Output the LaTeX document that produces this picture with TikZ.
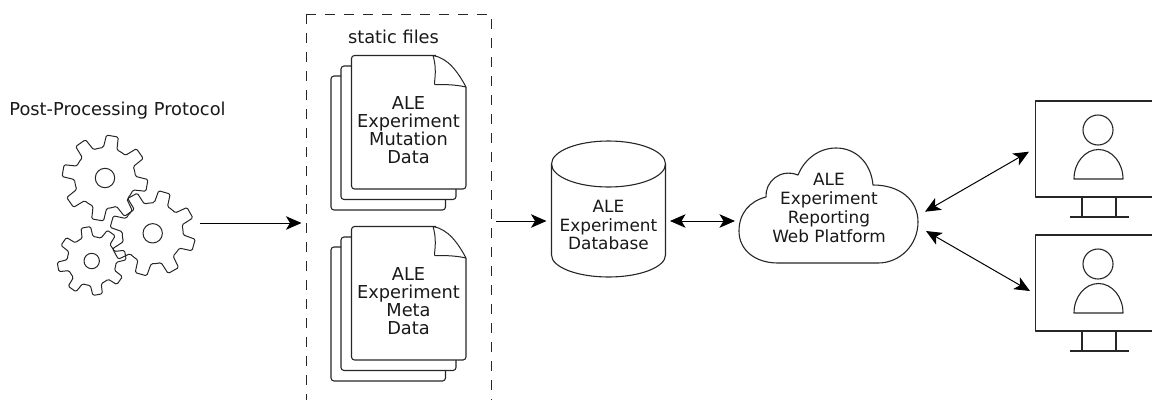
\documentclass[tikz,border=0pt]{standalone}
\usepackage{fontspec}
\setmainfont{DejaVu Sans}
\usetikzlibrary{arrows.meta}
\tikzset{
  x=1pt,y=-1pt,
  line/.style={draw=black!85,line width=1.1pt,line join=round},
  thin line/.style={draw=black!85,line width=1pt,line join=round},
  dashedbox/.style={draw=black!85,line width=1pt,dash pattern=on 9.5pt off 9.5pt},
  arrowline/.style={draw=black,line width=1pt,-{Stealth[length=15.5pt,width=13.5pt,inset=4pt]}},
  biarrow/.style={draw=black,line width=1pt,{Stealth[length=15.5pt,width=13.5pt,inset=4pt]}-{Stealth[length=15.5pt,width=13.5pt,inset=4pt]}},
  label/.style={font=\fontsize{17.8}{18}\selectfont,align=center,inner sep=0pt,text=black!90},
  small label/.style={label,font=\fontsize{16.9}{18.3}\selectfont},
}
\newcommand{\mygear}[5]{% cx cy rout rin phase
  \draw[thin line,rounded corners=1.4pt,shift={(#1,#2)}]
    (-#5-13:#4)
    \foreach \k in {0,45,...,315}{
      -- (-#5+\k-13:#4) -- (-#5+\k-8:#3) -- (-#5+\k+8:#3) -- (-#5+\k+13:#4) -- (-#5+\k+22.5:#4)
    } -- cycle;
}
\newcommand{\mydoc}[3]{% dy, text, name
  \begin{scope}[shift={(0,#1)}]
    \draw[line,rounded corners=3pt] (341,76) -- (331,76) -- (331,210) -- (445.5,210) -- (445.5,199.5);
    \draw[line,rounded corners=3pt] (351.5,66) -- (341,66) -- (341,199.5) -- (456,199.5) -- (456,189);
    \draw[line,rounded corners=3pt] (436,55.5) -- (351.5,55.5) -- (351.5,189) -- (466,189) -- (466,87);
    \draw[thin line] (433,55.5) .. controls (448,58) and (458,72) .. (466,87) .. controls (455,84.5) and (445,84.5) .. (435,84.5) .. controls (433,84.5) and (438,72) .. (433,55.5);
    \node[label] (#3) at (408.5,130) {#2};
  \end{scope}
}
\newcommand{\mymonitor}[1]{%
  \begin{scope}[shift={(0,#1)}]
    \draw[line] (1152,101) -- (1035.5,101) -- (1035.5,197) -- (1152,197);
    \draw[line] (1082,197) -- (1082,217) (1116,197) -- (1116,217);
    \draw[line] (1070,217) -- (1128.5,217);
    \draw[line] (1098,130) circle[radius=15];
    \draw[line] (1074,179) arc[start angle=180,end angle=0,x radius=24.5,y radius=-29.5] -- cycle;
  \end{scope}
}
\begin{document}
\begin{tikzpicture}
\useasboundingbox (0,0) rectangle (1152,400);
\node[label] (protocol) at (117.5,111) {Post-Processing Protocol};
% gears
\mygear{105}{178}{43}{30.5}{80}
\mygear{152.7}{233.3}{43}{30.5}{74}
\mygear{91.7}{261}{34.5}{24.5}{100}
\foreach \c/\r in {{105,178}/9.7,{152.7,233.3}/9.7,{91.7,261}/7.7}{
  \draw[thin line] (\c) circle[radius=\r];
}
% static box
\draw[dashedbox] (306,14) -- (306,400);
\draw[dashedbox] (306,14) -- (491,14) -- (491,400);
\node[label] (static) at (393.5,37) {static files};
\mydoc{0}{ALE\\Experiment\\Mutation\\Data}{docA}
\mydoc{171}{ALE\\Experiment\\Meta\\Data}{docB}
% database
\draw[line] (551.5,164) arc[start angle=180,end angle=0,x radius=57,y radius=-23]
  -- (665.5,255) arc[start angle=0,end angle=180,x radius=57,y radius=22] -- cycle;
\draw[line] (551.5,164) arc[start angle=180,end angle=360,x radius=57,y radius=-23];
\node[small label] (db) at (608.5,225) {ALE\\Experiment\\Database};
% cloud
\draw[line] (778,263)
  .. controls (755,263) and (739,250) .. (739,231)
  .. controls (739,213) and (750,201) .. (766,197)
  .. controls (765,182) and (780,168) .. (798,175)
  .. controls (805,158) and (820,148) .. (836,148)
  .. controls (856,148) and (871,163) .. (873,185)
  .. controls (900,185) and (918,200) .. (918,222)
  .. controls (918,245) and (900,263) .. (878,263) -- cycle;
\node[small label,font=\fontsize{16.9}{18.7}\selectfont] (cloud) at (829,208) {ALE\\Experiment\\Reporting\\Web Platform};
\mymonitor{0}
\mymonitor{134}
% connectors
\coordinate (gearsOut) at (200,223);
\coordinate (boxIn) at (301.5,223);
\coordinate (boxOut) at (496,221);
\coordinate (dbIn) at (546.5,221);
\coordinate (dbOut) at (670,221);
\coordinate (cloudIn) at (735,221);
\coordinate (cloudA) at (925,211.7);
\coordinate (monA) at (1029,151.7);
\coordinate (cloudB) at (926,231);
\coordinate (monB) at (1030,291);
\draw[arrowline] (gearsOut) -- (boxIn);
\draw[arrowline] (boxOut) -- (dbIn);
\draw[biarrow] (dbOut) -- (cloudIn);
\draw[biarrow] (cloudA) -- (monA);
\draw[biarrow] (cloudB) -- (monB);
\end{tikzpicture}
\end{document}
